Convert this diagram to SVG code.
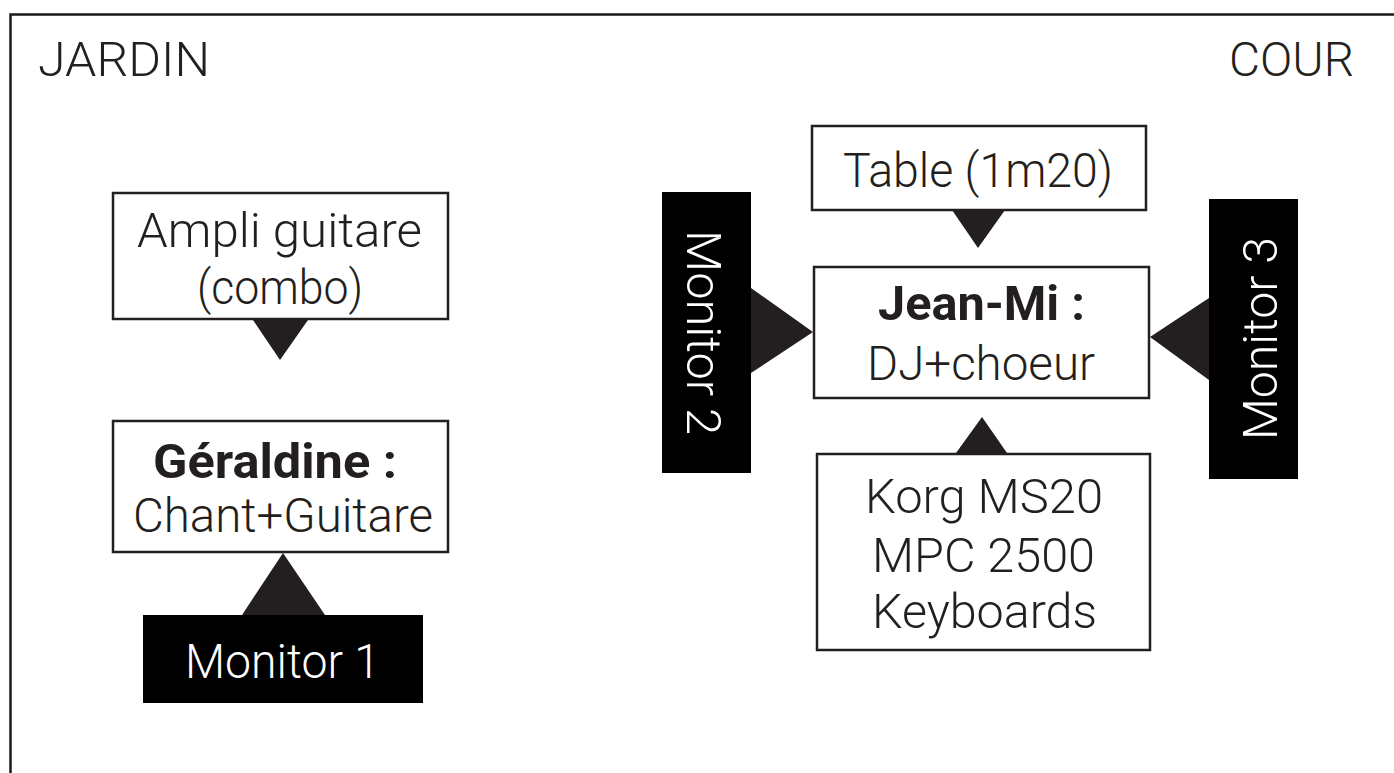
<svg xmlns="http://www.w3.org/2000/svg" width="1394" height="773" viewBox="0 0 1394 773">
<style>
.t{font-family:Roboto,"Liberation Sans",sans-serif;font-weight:300;font-size:48px;fill:#231f20}
.b{font-weight:700}
.w{fill:#ffffff}
.box{fill:#ffffff;stroke:#231f20;stroke-width:2.5}
.mon{fill:#000000}
.tri{fill:#231f20}
</style>
<rect x="0" y="0" width="1394" height="773" fill="#ffffff"/>
<path d="M10.5,773 V14.5 H1394" fill="none" stroke="#1a1a1a" stroke-width="2.5"/>
<g id="labels">
<text class="t" x="38" y="76" textLength="172" lengthAdjust="spacingAndGlyphs">JARDIN</text>
<text class="t" x="1229" y="76" textLength="125" lengthAdjust="spacingAndGlyphs">COUR</text>
</g>
<g id="connectors">
<polygon class="tri" points="253,320 308,320 280,360"/>
<polygon class="tri" points="283,553 242,615 325,615"/>
<polygon class="tri" points="952,210 1005,210 978,248"/>
<polygon class="tri" points="982,417 956,453 1007,453"/>
<polygon class="tri" points="751,288 751,373 813,332"/>
<polygon class="tri" points="1209,298 1209,380 1150,337"/>
</g>
<g id="ampli">
<rect class="box" x="113" y="193" width="335" height="126"/>
<text class="t" x="137" y="247" textLength="285" lengthAdjust="spacingAndGlyphs">Ampli guitare</text>
<text class="t" x="197" y="304" textLength="166" lengthAdjust="spacingAndGlyphs">(combo)</text>
</g>
<g id="geraldine">
<rect class="box" x="113" y="421" width="335" height="131"/>
<text class="t b" x="153" y="478" textLength="244" lengthAdjust="spacingAndGlyphs">Géraldine :</text>
<text class="t" x="133" y="532" textLength="300" lengthAdjust="spacingAndGlyphs">Chant+Guitare</text>
</g>
<g id="monitor1">
<rect class="mon" x="143" y="615" width="280" height="88"/>
<text class="t w" x="185" y="678" textLength="195" lengthAdjust="spacingAndGlyphs">Monitor 1</text>
</g>
<g id="table">
<rect class="box" x="812" y="126" width="334" height="84"/>
<text class="t" x="843" y="187" textLength="270" lengthAdjust="spacingAndGlyphs">Table (1m20)</text>
</g>
<g id="jeanmi">
<rect class="box" x="814" y="267" width="335" height="131"/>
<text class="t b" x="878" y="320" textLength="207" lengthAdjust="spacingAndGlyphs">Jean-Mi :</text>
<text class="t" x="867" y="380" textLength="228" lengthAdjust="spacingAndGlyphs">DJ+choeur</text>
</g>
<g id="korg">
<rect class="box" x="817" y="454" width="333" height="196"/>
<text class="t" x="865" y="513" textLength="238" lengthAdjust="spacingAndGlyphs">Korg MS20</text>
<text class="t" x="872" y="572" textLength="223" lengthAdjust="spacingAndGlyphs">MPC 2500</text>
<text class="t" x="872" y="628" textLength="225" lengthAdjust="spacingAndGlyphs">Keyboards</text>
</g>
<g id="monitor2">
<rect class="mon" x="662" y="192" width="89" height="281"/>
<text class="t w" transform="translate(687,230) rotate(90)" x="0" y="0" textLength="205" lengthAdjust="spacingAndGlyphs">Monitor 2</text>
</g>
<g id="monitor3">
<rect class="mon" x="1209" y="199" width="89" height="280"/>
<text class="t w" transform="translate(1277,440) rotate(-90)" x="0" y="0" textLength="203" lengthAdjust="spacingAndGlyphs">Monitor 3</text>
</g>
</svg>
